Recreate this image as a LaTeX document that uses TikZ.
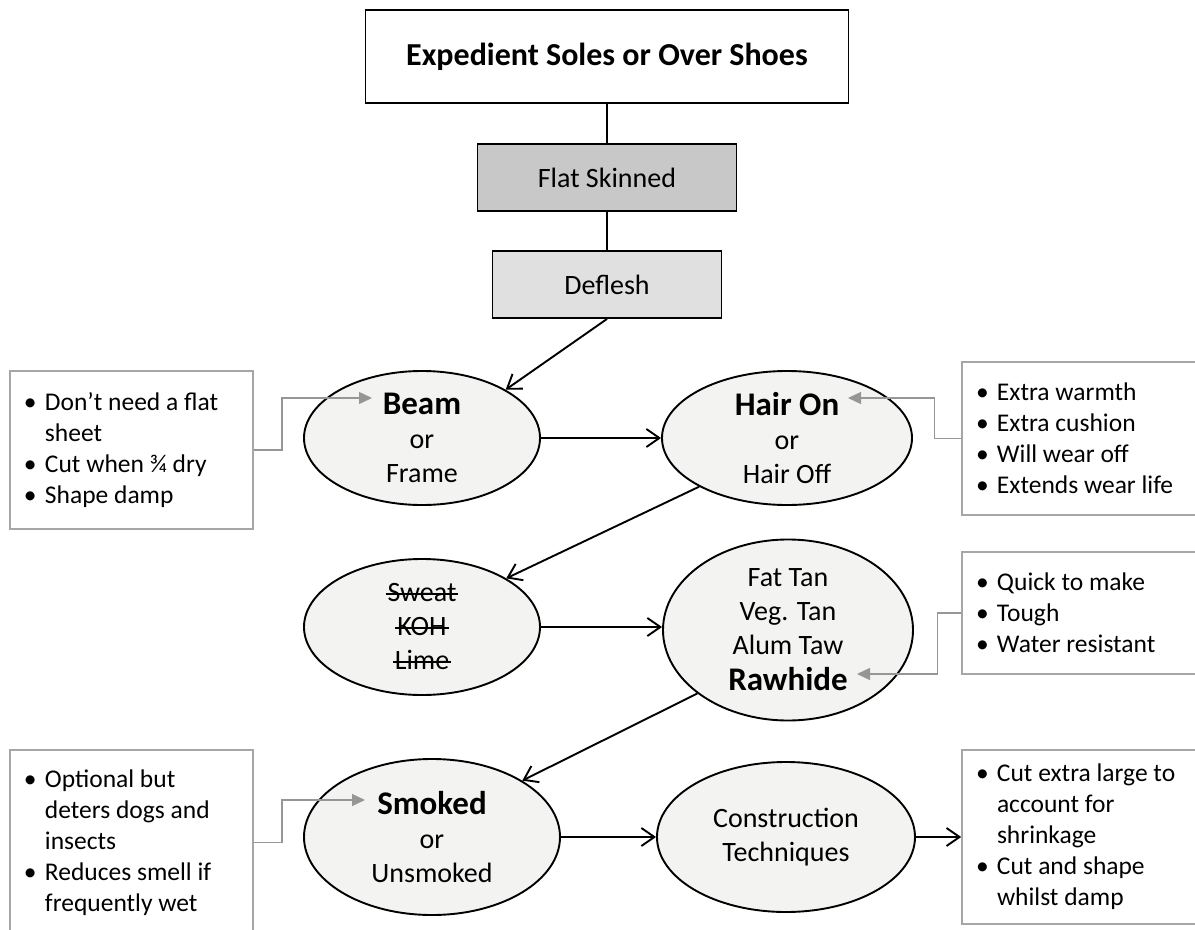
\documentclass[tikz,border=0pt]{standalone}
\usepackage{fontspec}
\setmainfont{Carlito}
\usetikzlibrary{positioning, shapes.geometric, arrows.meta}

\definecolor{flatgray}{HTML}{C8C8C8}
\definecolor{fleshgray}{HTML}{E0E0E0}
\definecolor{ovalfill}{HTML}{F3F3F1}
\definecolor{notegray}{HTML}{A6A6A6}
\definecolor{linkgray}{HTML}{969696}

\newsavebox{\strikebox}
\newcommand{\strikeout}[1]{\sbox{\strikebox}{#1}%
  \rlap{\hspace{-2bp}\raisebox{7bp}{\rule{\dimexpr\wd\strikebox+4bp\relax}{1.6bp}}}\usebox{\strikebox}}
\newcommand{\notepoint}[1]{\noindent\hangindent=21bp\hangafter=1\makebox[21bp][l]{\textbullet}#1\par}
\newcommand{\headtxt}{\fontsize{33bp}{34bp}\selectfont\bfseries}

\begin{document}
\begin{tikzpicture}[x=1bp, y=-1bp,
    stepbox/.style={draw, line width=1.9bp, minimum height=67bp, inner sep=0pt,
      font=\fontsize{28bp}{30bp}\selectfont},
    oval/.style={ellipse, draw, line width=1.9bp, fill=ovalfill, inner sep=0pt,
      align=center, font=\fontsize{28bp}{34bp}\selectfont},
    note/.style={draw=notegray, line width=1.6bp, fill=white, inner xsep=14bp,
      inner ysep=0pt, text width=215bp, align=flush left,
      font=\fontsize{25.5bp}{31bp}\selectfont},
    flow/.style={-{Straight Barb[length=13bp,width=18bp]}, line width=1.9bp},
    hint/.style={-{Triangle[length=13bp,width=12bp]}, draw=linkgray, line width=1.4bp}]
  \useasboundingbox (0,0) rectangle (1195,930);

  % main column
  \node[draw, line width=1.9bp, fill=white, minimum width=483bp, minimum height=93bp,
    font=\fontsize{32bp}{34bp}\selectfont\bfseries] (title) at (607,56.5)
    {Expedient Soles or Over Shoes};
  \node[stepbox, fill=flatgray, minimum width=259bp] (flat) at (607,177.5) {Flat Skinned};
  \node[stepbox, fill=fleshgray, minimum width=229bp] (deflesh) at (607,284.5) {Deflesh};

  % ovals
  \node[oval, minimum width=236bp, minimum height=134bp] (beam) at (422,438)
    {{\headtxt Beam}\\or\\Frame};
  \node[oval, minimum width=250bp, minimum height=134bp] (hairon) at (787,438)
    {{\headtxt Hair On}\\or\\Hair Off};
  \node[oval, minimum width=236bp, minimum height=136bp] (sweat) at (422,627)
    {\strikeout{Sweat}\\\strikeout{KOH}\\\strikeout{Lime}};
  \node[oval, inner sep=-12bp, minimum width=250bp, minimum height=181bp] (fattan) at (788,630)
    {Fat Tan\\Veg. Tan\\Alum Taw\\[2bp]{\headtxt Rawhide}};
  \node[oval, minimum width=256bp, minimum height=156bp] (smoked) at (432,837)
    {{\headtxt Smoked}\\or\\Unsmoked};
  \node[oval, minimum width=258bp, minimum height=150bp] (constr) at (786,837)
    {Construction\\Techniques};

  % notes
  \node[note, minimum height=158bp] (noteBeam) at (131.5,450)
    {\notepoint{Don’t need a flat\newline sheet}\notepoint{Cut when ¾ dry}\notepoint{Shape damp}};
  \node[note, minimum height=153bp] (noteHair) at (1083.5,438.5)
    {\notepoint{Extra warmth}\notepoint{Extra cushion}\notepoint{Will wear off}\notepoint{Extends wear life}};
  \node[note, minimum height=122bp] (noteRaw) at (1083.5,613)
    {\notepoint{Quick to make}\notepoint{Tough}\notepoint{Water resistant}};
  \node[note, minimum height=185bp] (noteSmoke) at (131.5,842.5)
    {\notepoint{Optional but\newline deters dogs and\newline insects}\notepoint{Reduces smell if\newline frequently wet}};
  \node[note, minimum height=174bp] (noteConstr) at (1083.5,837)
    {\notepoint{Cut~extra~large~to\newline account for\newline shrinkage}\notepoint{Cut and shape\newline whilst damp}};

  % connectors
  \draw[line width=1.9bp] (title) -- (flat) -- (deflesh);
  \draw[flow] (deflesh.south) -- (beam.30);
  \draw[flow] (beam) -- (hairon);
  \draw[flow] (hairon.209) -- (sweat.30);
  \draw[flow] (sweat.east) -- (sweat.east -| fattan.west);
  \draw[flow] (fattan.215) -- (smoked.32);
  \draw[flow] (smoked) -- (constr);
  \draw[flow] (constr) -- (noteConstr);

  \coordinate (beamin) at (372,398);
  \coordinate (hairin) at (848,398);
  \coordinate (rawin) at (857,674);
  \coordinate (smokein) at (365,800);
  \draw[hint] (noteBeam.east) -- ++(28,0) |- (beamin);
  \draw[hint] (noteHair.west) -- ++(-27,0) |- (hairin);
  \draw[hint] (noteRaw.west) -- ++(-24,0) |- (rawin);
  \draw[hint] (noteSmoke.east) -- ++(28,0) |- (smokein);
\end{tikzpicture}
\end{document}
